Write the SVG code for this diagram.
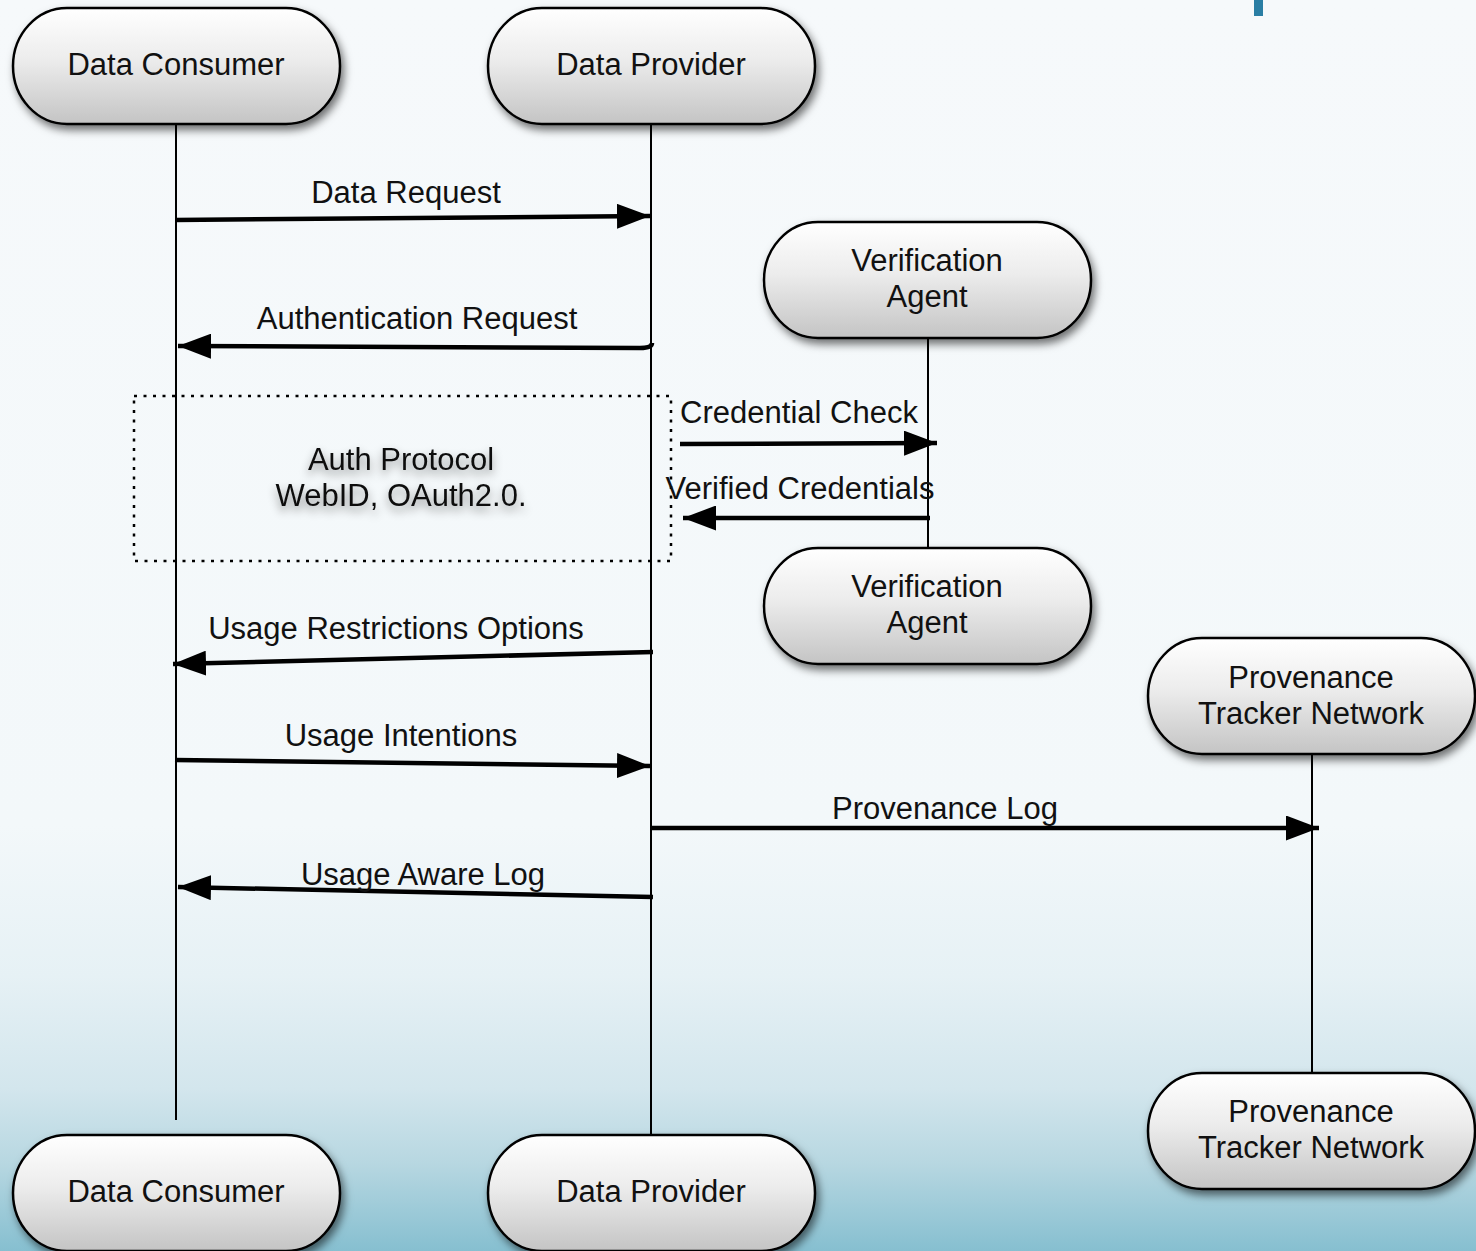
<svg xmlns="http://www.w3.org/2000/svg" width="1476" height="1251" viewBox="0 0 1476 1251">
<defs>
<linearGradient id="bg" x1="0" y1="0" x2="0" y2="1">
<stop offset="0" stop-color="#f6f9fb"/>
<stop offset="0.66" stop-color="#f3f8fa"/>
<stop offset="0.78" stop-color="#e6f1f5"/>
<stop offset="0.87" stop-color="#d3e6ed"/>
<stop offset="0.93" stop-color="#b7d7e1"/>
<stop offset="1" stop-color="#86bfd0"/>
</linearGradient>
<linearGradient id="nodefill" x1="0" y1="0" x2="0" y2="1">
<stop offset="0" stop-color="#ffffff"/>
<stop offset="0.45" stop-color="#ececec"/>
<stop offset="1" stop-color="#c4c4c4"/>
</linearGradient>
<filter id="shadow" x="-10%" y="-20%" width="125%" height="150%">
<feDropShadow dx="3" dy="5" stdDeviation="4" flood-color="#000" flood-opacity="0.55"/>
</filter>
<filter id="tshadow" x="-10%" y="-30%" width="120%" height="170%">
<feDropShadow dx="0" dy="5" stdDeviation="5" flood-color="#000" flood-opacity="0.45"/>
</filter>
<marker id="ah" viewBox="0 0 33 25" refX="33" refY="12.5" markerWidth="33" markerHeight="25" markerUnits="userSpaceOnUse" orient="auto">
<path d="M0,0 L33,12.5 L0,25 Z" fill="#000"/>
</marker>
<style>
.node rect{fill:url(#nodefill);stroke:#000;stroke-width:2.5;filter:url(#shadow)}
.node text,.lbl{font-family:"Liberation Sans",Arial,sans-serif;font-size:31px;fill:#111;text-anchor:middle}
.life{stroke:#000;stroke-width:2;fill:none}
.msg{stroke:#000;stroke-width:4.5;fill:none;marker-end:url(#ah)}
.dots{fill:none;stroke:#000;stroke-width:2.5;stroke-dasharray:3 6.5}
</style>
</defs>
<rect x="0" y="0" width="1476" height="1251" fill="url(#bg)"/>
<rect x="1254" y="0" width="9" height="16" fill="#2a7ea4"/>

<g id="lifelines">
<line class="life" x1="176" y1="124" x2="176" y2="1120"/>
<line class="life" x1="651" y1="124" x2="651" y2="1136"/>
<line class="life" x1="928" y1="338" x2="928" y2="548"/>
<line class="life" x1="1312" y1="754" x2="1312" y2="1074"/>
</g>

<g id="frame">
<rect class="dots" x="134" y="396" width="537" height="165"/>
<g filter="url(#tshadow)">
<text class="lbl" x="401" y="470">Auth Protocol</text>
<text class="lbl" x="401" y="506">WebID, OAuth2.0.</text>
</g>
</g>

<g id="connectors">
<path class="msg" d="M175,220 L650,216"/>
<path class="msg" d="M652,343 Q652,348 640,348 L178,346"/>
<path class="msg" d="M680,444 L937,443"/>
<path class="msg" d="M930,518 L683,518"/>
<path class="msg" d="M653,652 L173,664"/>
<path class="msg" d="M175,760 L650,766"/>
<path class="msg" d="M651,828 L1319,828"/>
<path class="msg" d="M653,897 L178,887"/>
<text class="lbl" x="406" y="203">Data Request</text>
<text class="lbl" x="417" y="329">Authentication Request</text>
<text class="lbl" x="799" y="423">Credential Check</text>
<text class="lbl" x="800" y="499">Verified Credentials</text>
<text class="lbl" x="396" y="639">Usage Restrictions Options</text>
<text class="lbl" x="401" y="746">Usage Intentions</text>
<text class="lbl" x="945" y="819">Provenance Log</text>
<text class="lbl" x="423" y="885">Usage Aware Log</text>
</g>

<g id="consumer-top" class="node">
<rect x="13" y="8" width="327" height="116" rx="54" ry="58"/>
<text x="176" y="75">Data Consumer</text>
</g>
<g id="provider-top" class="node">
<rect x="488" y="8" width="327" height="116" rx="54" ry="58"/>
<text x="651" y="75">Data Provider</text>
</g>
<g id="verifier-top" class="node">
<rect x="764" y="222" width="327" height="116" rx="54" ry="58"/>
<text x="927" y="271">Verification</text>
<text x="927" y="307">Agent</text>
</g>
<g id="verifier-bottom" class="node">
<rect x="764" y="548" width="327" height="116" rx="54" ry="58"/>
<text x="927" y="597">Verification</text>
<text x="927" y="633">Agent</text>
</g>
<g id="provenance-top" class="node">
<rect x="1148" y="638" width="327" height="116" rx="54" ry="58"/>
<text x="1311" y="688">Provenance</text>
<text x="1311" y="724">Tracker Network</text>
</g>
<g id="provenance-bottom" class="node">
<rect x="1148" y="1073" width="327" height="116" rx="54" ry="58"/>
<text x="1311" y="1122">Provenance</text>
<text x="1311" y="1158">Tracker Network</text>
</g>
<g id="consumer-bottom" class="node">
<rect x="13" y="1135" width="327" height="116" rx="54" ry="58"/>
<text x="176" y="1202">Data Consumer</text>
</g>
<g id="provider-bottom" class="node">
<rect x="488" y="1135" width="327" height="116" rx="54" ry="58"/>
<text x="651" y="1202">Data Provider</text>
</g>
</svg>
